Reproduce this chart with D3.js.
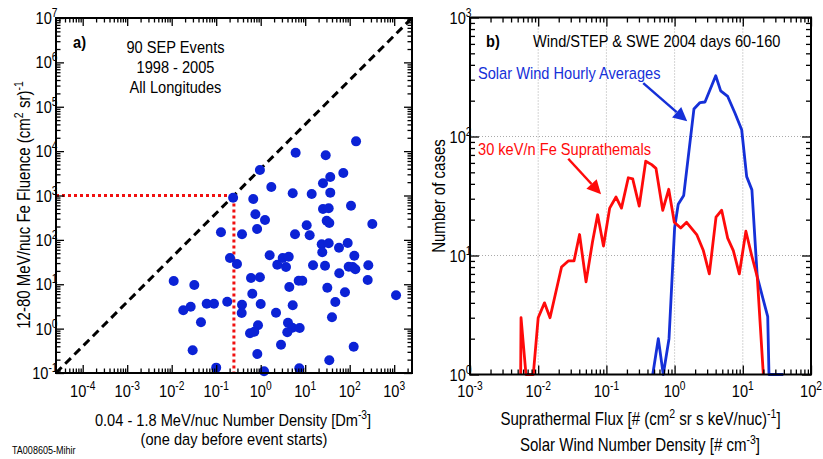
<!DOCTYPE html>
<html>
<head>
<meta charset="utf-8">
<script src="https://cdnjs.cloudflare.com/ajax/libs/d3/7.8.5/d3.min.js"></script>
<style>
  body { margin: 0; background: #fff; }
  svg { display: block; font-family: "Liberation Sans", Arial, sans-serif; }
  text { white-space: pre; }
</style>
</head>
<body>
<div id="chart"></div>
<script>
// a) 90 SEP events: density one day before vs 12-80 MeV/nuc Fe fluence
var sepDensity = [0.96, 6.1, 28.9, 139, 71.8, 36.6, 25.1, 1.73, 5.24, 14.0, 36.6, 0.68, 0.24,
  0.76, 1.25, 107, 25.1, 33.7, 30.4, 34.8, 10.8, 0.83, 0.128, 0.38, 5.9, 12.6, 322,
  23.5, 33.7, 90.2, 57.5, 24.2, 127, 1.59, 3.12, 4.26, 0.204, 0.293, 2.36, 3.7, 15,
  27.9, 95, 117, 134, 262, 58.3, 0.605, 0.96, 7.14, 8.6, 254, 0.0111, 0.0322, 4.4,
  31.4, 0.647, 78.3, 1100, 0.0267, 0.0182, 0.0612, 0.0893, 0.177, 0.38, 1.0, 5.24,
  47.5, 0.374, 2.21, 40, 0.0455, 0.87, 4.1, 5.13, 7.52, 3.96, 0.575, 0.718, 2.86,
  123, 0.0296, 0.84, 34.8, 0.1, 7.36, 1.19];
var sepFluence = [3760, 9220, 8050, 16600, 3210, 2610, 1880, 1550, 1120, 1080, 1160, 834, 891,
  377, 281, 589, 497, 515, 270, 240, 213, 176, 148, 134, 134, 127, 228,
  79.4, 83.7, 85.1, 66.7, 52.5, 44, 44.9, 39, 41.8, 39, 28.6, 27.6, 24.5, 26.7,
  26.2, 24.8, 24.5, 21.7, 26.7, 17.7, 13.8, 14.4, 12.0, 12.0, 12.5, 11.8, 9.6, 8.67,
  8.36, 6.12, 6.59, 5.64, 3.12, 2.59, 3.65, 3.65, 4.05, 3.46, 3.59, 3.36,
  3.98, 2.25, 2.28, 1.80, 1.39, 1.19, 1.36, 1.05, 1.03, 0.83, 0.785, 0.853, 0.435,
  0.392, 0.325, 0.268, 0.193, 0.132, 0.128, 0.109];
var diagRatio = 4000;      // dashed line: fluence = 4000 * density
var cutDensity = 0.25;     // red dotted guide
var cutFluence = 1000;

// b) histograms, Wind/STEP & SWE 2004 days 60-160
var feFlux = [0.00553, 0.0056, 0.00662, 0.00847, 0.01, 0.01236, 0.0149, 0.022, 0.0276, 0.0335,
  0.0404, 0.0503, 0.0625, 0.0744, 0.0906, 0.1117, 0.1384, 0.1663, 0.2094, 0.243,
  0.303, 0.377, 0.461, 0.533, 0.67, 0.82, 0.99, 1.23, 1.5, 2.11,
  2.64, 3.23, 4.05, 4.9, 6.0, 7.26, 8.89, 11.1, 13.5, 16.3, 20.0];
var feCases = [1, 3, 1, 1, 3, 4, 3, 8, 9, 9,
  15, 6, 13, 22, 12, 25, 31, 25, 45, 44,
  26, 62, 58, 54, 24, 36, 19, 17, 19, 15,
  11, 7, 21, 24, 14, 11, 7, 16, 10, 6.6, 1];
var swDensity = [0.478, 0.577, 0.682, 0.828, 1.0, 1.13, 1.36, 1.92, 2.36, 2.79, 4.01,
  4.74, 6.01, 7.69, 9.63, 11.4, 13.6, 16.3, 23.2, 24.2, 39.3];
var swCases = [1, 2, 1, 2, 17, 27, 32, 170, 193, 195, 324,
  242, 217, 157, 114, 46, 35.6, 6.6, 3.06, 1, 1];

var W = 823, H = 459, SX = 0.86;
var svg = d3.select("#chart").append("svg").attr("width", W).attr("height", H);
svg.append("rect").attr("width", W).attr("height", H).attr("fill", "#fff");

// text squeezed horizontally like the original figure; arrays in parts are superscripts
function label(g, x, y, parts, o) {
  o = o || {};
  var t = g.append("text")
    .attr("transform", "translate(" + x + "," + y + ")" + (o.rotate ? " rotate(" + o.rotate + ")" : "") + " scale(" + SX + ",1)")
    .attr("text-anchor", o.anchor || "start")
    .attr("font-size", o.size || 17)
    .attr("font-weight", o.bold ? "bold" : null)
    .attr("fill", o.color || "#000");
  var up = false;
  parts.forEach(function(p) {
    var sup = Array.isArray(p);
    var ts = t.append("tspan").text(sup ? p[0] : p);
    if (sup) ts.attr("font-size", (o.size || 17) * 0.7);
    if (sup && !up) { ts.attr("dy", -7); up = true; }
    else if (!sup && up) { ts.attr("dy", 7); up = false; }
  });
  return t;
}

function decadeTicks(scale) {
  var d = scale.domain(), lo = Math.floor(Math.log10(d[0])), hi = Math.ceil(Math.log10(d[1]));
  var major = [], minor = [];
  for (var e = lo; e <= hi; e++) {
    for (var k = 1; k <= 9; k++) {
      var v = k * Math.pow(10, e);
      if (v < d[0] * 0.9999 || v > d[1] * 1.0001) continue;
      (k === 1 ? major : minor).push(v);
    }
  }
  return {major: major, minor: minor};
}

function clean(g) {
  g.select(".domain").remove();
  g.selectAll("line").attr("stroke", "#000").attr("stroke-width", 1.3);
}

function frame(g, x, y, majLen, minLen) {
  var tx = decadeTicks(x), ty = decadeTicks(y);
  var x0 = x.range()[0], x1 = x.range()[1], y0 = y.range()[0], y1 = y.range()[1];
  [[tx.minor, minLen], [tx.major, majLen]].forEach(function(s) {
    g.append("g").attr("transform", "translate(0," + y0 + ")")
      .call(d3.axisBottom(x).tickValues(s[0]).tickSize(-s[1]).tickFormat("")).call(clean);
    g.append("g").attr("transform", "translate(0," + y1 + ")")
      .call(d3.axisTop(x).tickValues(s[0]).tickSize(-s[1]).tickFormat("")).call(clean);
  });
  [[ty.minor, minLen], [ty.major, majLen]].forEach(function(s) {
    g.append("g").attr("transform", "translate(" + x0 + ",0)")
      .call(d3.axisLeft(y).tickValues(s[0]).tickSize(-s[1]).tickFormat("")).call(clean);
    g.append("g").attr("transform", "translate(" + x1 + ",0)")
      .call(d3.axisRight(y).tickValues(s[0]).tickSize(-s[1]).tickFormat("")).call(clean);
  });
  g.append("rect").attr("x", x0).attr("y", y1).attr("width", x1 - x0).attr("height", y0 - y1)
    .attr("fill", "none").attr("stroke", "#000").attr("stroke-width", 2);
  // decade labels
  tx.major.forEach(function(v) {
    label(g, x(v), 396.7, ["10", [String(Math.round(Math.log10(v)))]], {anchor: "middle"});
  });
  ty.major.forEach(function(v) {
    label(g, x0 + 1.5, y(v) + 6, ["10", [String(Math.round(Math.log10(v)))]], {anchor: "end"});
  });
}

function arrow(g, x1, y1, x2, y2, color) {
  var a = Math.atan2(y2 - y1, x2 - x1), L = 14, w = 7;
  var bx = x2 - L * Math.cos(a), by = y2 - L * Math.sin(a);
  g.append("line").attr("x1", x1).attr("y1", y1).attr("x2", bx).attr("y2", by)
    .attr("stroke", color).attr("stroke-width", 2.5);
  g.append("path")
    .attr("d", "M" + x2 + "," + y2 + "L" + (bx + w * Math.sin(a)) + "," + (by - w * Math.cos(a)) +
      "L" + (bx - w * Math.sin(a)) + "," + (by + w * Math.cos(a)) + "Z")
    .attr("fill", color);
}

// ---------- panel a ----------
var xA = d3.scaleLog().domain([Math.pow(10, -4.6), Math.pow(10, 3.4)]).range([56, 412]);
var yA = d3.scaleLog().domain([0.1, 1e7]).range([373, 18]);
var ga = svg.append("g");

var diag = [[xA.domain()[0], diagRatio * xA.domain()[0]], [yA.domain()[1] / diagRatio, yA.domain()[1]]];
ga.append("path")
  .attr("d", d3.line().x(function(d) { return xA(d[0]); }).y(function(d) { return yA(d[1]); })(diag))
  .attr("fill", "none").attr("stroke", "#000").attr("stroke-width", 3).attr("stroke-dasharray", "8,5");

var cut = [[xA.domain()[0], cutFluence], [cutDensity, cutFluence], [cutDensity, yA.domain()[0]]];
ga.append("path")
  .attr("d", d3.line().x(function(d) { return xA(d[0]); }).y(function(d) { return yA(d[1]); })(cut))
  .attr("fill", "none").attr("stroke", "#f01010").attr("stroke-width", 3).attr("stroke-dasharray", "3,3");

ga.selectAll("circle").data(sepDensity).enter().append("circle")
  .attr("cx", function(d) { return xA(d); })
  .attr("cy", function(d, i) { return yA(sepFluence[i]); })
  .attr("r", 5).attr("fill", "#0b22d6");

frame(ga, xA, yA, 8, 4.5);

label(ga, 73, 48, ["a)"], {bold: true});
label(ga, 175.5, 53, ["90 SEP Events"], {anchor: "middle"});
label(ga, 175.5, 73, ["1998 - 2005"], {anchor: "middle"});
label(ga, 175.5, 92.5, ["All Longitudes"], {anchor: "middle"});
label(ga, 233, 426, ["0.04 - 1.8 MeV/nuc Number Density [Dm", ["-3"], "]"], {anchor: "middle", size: 17});
label(ga, 234, 444.5, ["(one day before event starts)"], {anchor: "middle", size: 17});
label(ga, 30, 205, ["12-80 MeV/nuc Fe Fluence (cm", ["2"], " sr)", ["-1"]], {anchor: "middle", rotate: -90, size: 17.5});
label(ga, 12, 454, ["TA008605-Mihir"], {size: 10.5});

// ---------- panel b ----------
var xB = d3.scaleLog().domain([1e-3, 1e2]).range([470, 811]);
var yB = d3.scaleLog().domain([1, 1000]).range([374.5, 17.5]);
var gb = svg.append("g");

decadeTicks(xB).major.slice(1, -1).forEach(function(v) {
  gb.append("line").attr("x1", xB(v)).attr("x2", xB(v)).attr("y1", yB.range()[0]).attr("y2", yB.range()[1])
    .attr("stroke", "#aaa").attr("stroke-dasharray", "1,2");
});
decadeTicks(yB).major.slice(1, -1).forEach(function(v) {
  gb.append("line").attr("x1", xB.range()[0]).attr("x2", xB.range()[1]).attr("y1", yB(v)).attr("y2", yB(v))
    .attr("stroke", "#aaa").attr("stroke-dasharray", "1,2");
});

var lineB = d3.line().x(function(d) { return xB(d[0]); }).y(function(d) { return yB(d[1]); });
gb.append("path").attr("d", lineB(d3.zip(swDensity, swCases)))
  .attr("fill", "none").attr("stroke", "#1530d8").attr("stroke-width", 2.8).attr("stroke-linejoin", "round");
gb.append("path").attr("d", lineB(d3.zip(feFlux, feCases)))
  .attr("fill", "none").attr("stroke", "#ff0a0a").attr("stroke-width", 2.8).attr("stroke-linejoin", "round");

frame(gb, xB, yB, 9, 5);

label(gb, 486, 46.7, ["b)"], {bold: true});
label(gb, 533, 46.7, ["Wind/STEP & SWE 2004 days 60-160"]);
label(gb, 478, 79, ["Solar Wind Hourly Averages"], {color: "#1530d8"});
label(gb, 478, 155, ["30 keV/n Fe Suprathemals"], {color: "#ff0a0a"});
arrow(gb, xB(0.347), yB(281), xB(1.53), yB(134), "#1530d8");
arrow(gb, xB(0.0276), yB(65), xB(0.0834), yB(32.7), "#ff0a0a");

label(gb, 640.5, 425, ["Suprathermal Flux [# (cm", ["2"], " sr s keV/nuc)", ["-1"], "]"], {anchor: "middle", size: 17.5});
label(gb, 640, 450.7, ["Solar Wind Number Density [# cm", ["-3"], "]"], {anchor: "middle", size: 17.5});
label(gb, 445, 196, ["Number of cases"], {anchor: "middle", rotate: -90, size: 17.5});
</script>
</body>
</html>
